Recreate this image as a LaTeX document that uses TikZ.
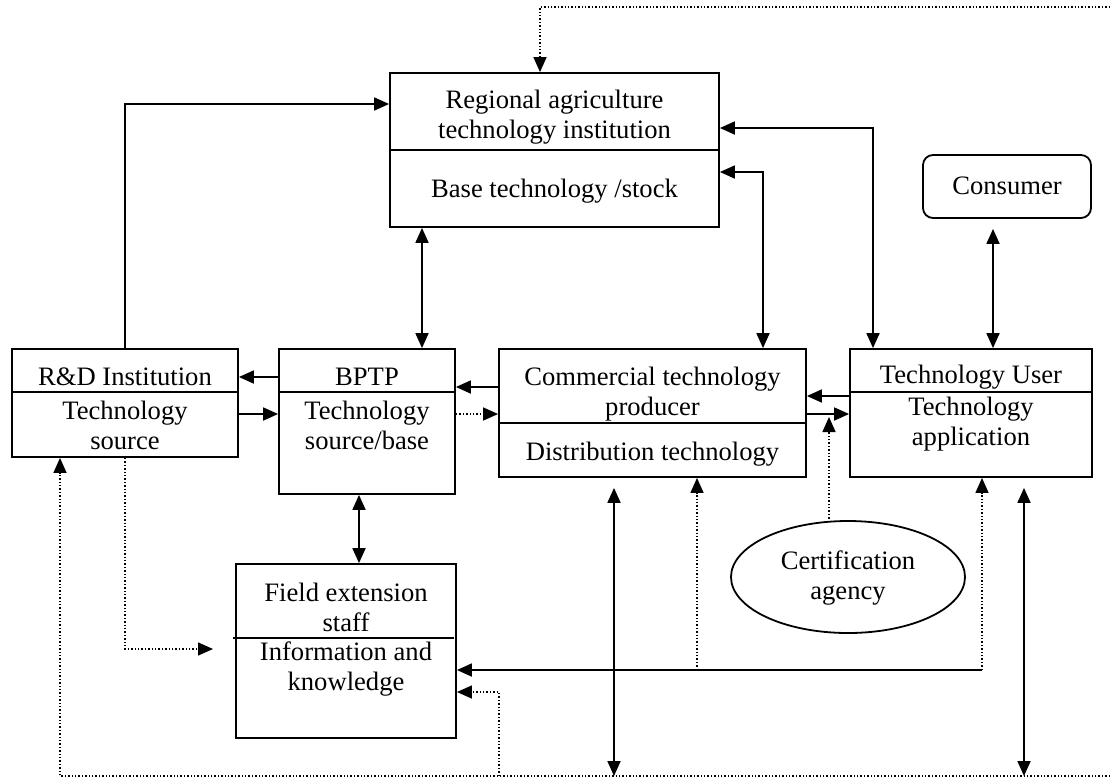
\documentclass[tikz,border=0pt]{standalone}
\usepackage{fontspec}
\setmainfont{Liberation Serif}
\usetikzlibrary{arrows.meta,shapes.geometric}
\tikzset{
  box/.style={draw, line width=1.8pt, inner sep=0pt},
  txt/.style={font=\fontsize{26.6}{30}\selectfont, align=center, inner sep=0pt},
  tip/.tip={Triangle[length=15pt,width=13pt]},
  arr/.style={line width=1.8pt, -tip},
  darr/.style={line width=1.8pt, tip-tip},
  dotarr/.style={line width=1.4pt, dash pattern=on 1.4pt off 2pt, -tip},
  divider/.style={line width=1.8pt}
}
\begin{document}
\begin{tikzpicture}[x=1pt,y=-1pt]
\useasboundingbox (0,0) rectangle (1110,777);
% boxes
\node[box, minimum width=329pt, minimum height=154pt] (reg) at (554.5,150) {};
\node[box, minimum width=226pt, minimum height=108pt] (rd) at (125,403) {};
\node[box, minimum width=176pt, minimum height=145pt] (bptp) at (367,421.5) {};
\node[box, minimum width=307pt, minimum height=128pt] (com) at (652.5,413) {};
\node[box, minimum width=242pt, minimum height=128pt] (tu) at (971,413) {};
\node[box, minimum width=220pt, minimum height=174pt] (field) at (346,651) {};
\node[box, rounded corners=10pt, minimum width=168pt, minimum height=63pt] (cons) at (1007,186.5) {};
\node[box, ellipse, minimum width=234pt, minimum height=112pt] (cert) at (848,577) {};
% dividers
\draw[divider] (reg.west |- 0,150) -- (reg.east |- 0,150);
\draw[divider] (rd.west |- 0,392) -- (rd.east |- 0,392);
\draw[divider] (bptp.west |- 0,392) -- (bptp.east |- 0,392);
\draw[divider] (com.west |- 0,423) -- (com.east |- 0,423);
\draw[divider] (tu.west |- 0,392) -- (tu.east |- 0,392);
\draw[divider] ([xshift=-2pt]field.west |- 0,638) -- ([xshift=-3pt]field.east |- 0,638);
% texts
\node[txt] (regA) at (554.5,117) {Regional agriculture\\technology institution};
\node[txt] (regB) at (554.5,191) {Base technology /stock};
\node[txt] (rdA) at (125,377) {R\&D Institution};
\node[txt] (rdB) at (125,425) {Technology\\source};
\node[txt] (bpA) at (367,377) {BPTP};
\node[txt] (bpB) at (367,425) {Technology\\source/base};
\node[txt] (comA) at (652.5,394) {Commercial technology\\producer};
\node[txt] (comB) at (652.5,454) {Distribution technology};
\node[txt] (tuA) at (971,377) {Technology User};
\node[txt] (tuB) at (971,424) {Technology\\application};
\node[txt] (fA) at (346,607) {Field extension\\staff};
\node[txt] (fB) at (346,669) {Information and\\knowledge};
\node[txt] (consT) at (1007,186) {Consumer};
\node[txt] (certT) at (848,578) {Certification\\agency};
% free ends
\coordinate (topR) at (1110,7);
\coordinate (botR) at (1110,776);
\coordinate (fieldIn) at (213,649);
\coordinate (jL) at (697,670);
\coordinate (jR) at (982,670);
\coordinate (b499) at (499,776);
\coordinate (b614) at (614,776);
\coordinate (b1024) at (1024,776);
\coordinate (certTip) at (829,417);
\coordinate (certTop) at (829,522);
% connectors
\draw[dotarr] (topR) -| (reg.north -| 540,0);
\draw[arr] (rd.north) |- (reg.west |- 0,104);
\draw[darr] (reg.south -| 422,0) -- (bptp.north -| 422,0);
\draw[darr] (reg.east |- 0,172) -| (com.north -| 763,0);
\draw[darr] (reg.east |- 0,128) -| (tu.north -| 873,0);
\draw[darr, shorten <=10pt] (cons.south -| 993,0) -- (tu.north -| 993,0);
\draw[arr] (bptp.west |- 0,377) -- (rd.east |- 0,377);
\draw[arr] (rd.east |- 0,414) -- (bptp.west |- 0,414);
\draw[arr] (com.west |- 0,387) -- (bptp.east |- 0,387);
\draw[dotarr] (bptp.east |- 0,414) -- (com.west |- 0,414);
\draw[arr] (tu.west |- 0,396) -- (com.east |- 0,396);
\draw[arr] (com.east |- 0,414) -- (tu.west |- 0,414);
\draw[dotarr] (certTop) -- (certTip);
\draw[darr] (bptp.south -| 359,0) -- (field.north -| 359,0);
\draw[dotarr] (rd.south) |- (fieldIn);
\draw[dotarr] (botR) -| (rd.south -| 60,0);
\draw[dotarr] (b499) |- (field.east |- 0,692);
\draw[arr] (jR) -- (field.east |- 0,670);
\draw[dotarr] (jL) -- (com.south -| 697,0);
\draw[dotarr] (jR) -- (tu.south -| 982,0);
\draw[darr, shorten <=10pt] (com.south -| 614,0) -- (b614);
\draw[darr, shorten <=10pt] (tu.south -| 1024,0) -- (b1024);
\end{tikzpicture}
\end{document}
